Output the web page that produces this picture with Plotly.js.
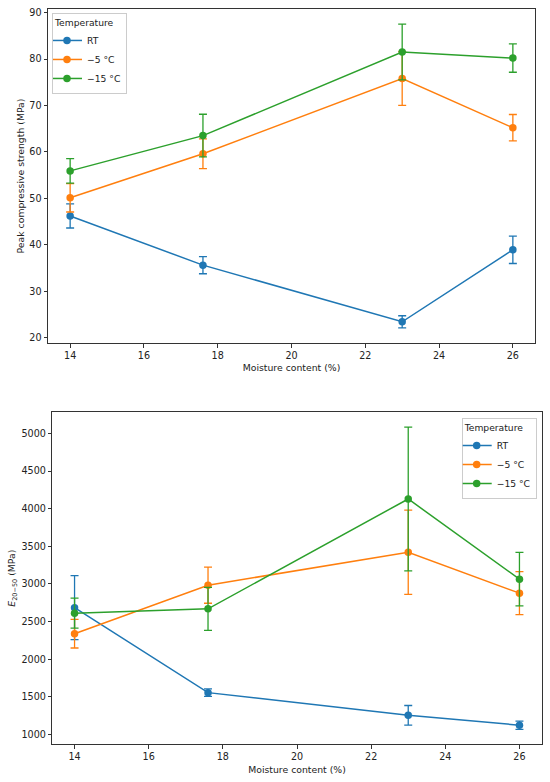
<!DOCTYPE html>
<html>
<head>
<meta charset="utf-8">
<script src="https://cdn.plot.ly/plotly-3.0.1.min.js"></script>
<style>html,body{margin:0;padding:0;background:#fff;}#chart{width:550px;height:782px;}</style>
</head>
<body>
<div id="chart"></div>
<script>
// Shared data
const moisture = [14, 17.6, 23, 26];
const seriesNames = ["RT", "\u22125 \u00B0C", "\u221215 \u00B0C"];
const colors = ["#1f77b4", "#ff7f0e", "#2ca02c"];

// Top: Peak compressive strength (MPa)
const peakRT = [46.2, 35.6, 23.4, 38.9];
const peakRTerr = [2.6, 1.85, 1.3, 2.95];
const peakM5 = [50.1, 59.6, 75.8, 65.2];
const peakM5err = [3.05, 3.2, 5.8, 2.85];
const peakM15 = [55.9, 63.5, 81.5, 80.2];
const peakM15err = [2.65, 4.6, 6.0, 3.05];

// Bottom: E20-50 (MPa)
const eRT = [2685, 1557, 1256, 1125];
const eRTerr = [425, 50, 130, 55];
const eM5 = [2340, 2984, 3422, 2878];
const eM5err = [190, 240, 560, 285];
const eM15 = [2613, 2670, 4129, 3064];
const eM15err = [200, 285, 955, 355];

const peakVals = [peakRT, peakM5, peakM15];
const peakErrs = [peakRTerr, peakM5err, peakM15err];
const eVals = [eRT, eM5, eM15];
const eErrs = [eRTerr, eM5err, eM15err];

const FONT = "DejaVu Sans, sans-serif";
const traces = [];
for (let i = 0; i < 3; i++) {
  traces.push({
    x: moisture, y: peakVals[i], type: "scatter", mode: "lines+markers",
    name: seriesNames[i], xaxis: "x", yaxis: "y", legend: "legend",
    line: {color: colors[i], width: 1.5},
    marker: {color: colors[i], size: 7.5},
    error_y: {type: "data", array: peakErrs[i], visible: true, color: colors[i], thickness: 1.3, width: 4}
  });
}
for (let i = 0; i < 3; i++) {
  traces.push({
    x: moisture, y: eVals[i], type: "scatter", mode: "lines+markers",
    name: seriesNames[i], xaxis: "x2", yaxis: "y2", legend: "legend2",
    line: {color: colors[i], width: 1.5},
    marker: {color: colors[i], size: 7.5},
    error_y: {type: "data", array: eErrs[i], visible: true, color: colors[i], thickness: 1.3, width: 4}
  });
}

const axisCommon = {
  showline: true, mirror: true, linecolor: "#333", linewidth: 1,
  ticks: "outside", ticklen: 3.5, tickwidth: 1, tickcolor: "#333",
  showgrid: false, zeroline: false,
  tickfont: {family: FONT, size: 9.6, color: "#222"}
};

const layout = {
  width: 550, height: 782,
  margin: {l: 0, r: 0, t: 0, b: 0},
  paper_bgcolor: "#fff", plot_bgcolor: "#fff",
  font: {family: FONT, size: 9.4, color: "#222"},
  showlegend: true,
  xaxis: Object.assign({}, axisCommon, {
    domain: [48/550, 535/550], anchor: "y",
    range: [13.4, 26.6], tickvals: [14, 16, 18, 20, 22, 24, 26],
    title: {text: "Moisture content (%)", font: {family: FONT, size: 9.3, color: "#222"}, standoff: 4}
  }),
  yaxis: Object.assign({}, axisCommon, {
    domain: [439/782, 773/782], anchor: "x",
    range: [18.83, 90.77], tickvals: [20, 30, 40, 50, 60, 70, 80, 90],
    title: {text: "Peak compressive strength (MPa)", font: {family: FONT, size: 9.3, color: "#222"}, standoff: 3}
  }),
  xaxis2: Object.assign({}, axisCommon, {
    domain: [52.3/550, 541.7/550], anchor: "y2",
    range: [13.4, 26.6], tickvals: [14, 16, 18, 20, 22, 24, 26],
    title: {text: "Moisture content (%)", font: {family: FONT, size: 9.3, color: "#222"}, standoff: 5}
  }),
  yaxis2: Object.assign({}, axisCommon, {
    domain: [38/782, 369.7/782], anchor: "x2",
    range: [875, 5280], tickvals: [1000, 1500, 2000, 2500, 3000, 3500, 4000, 4500, 5000],
    title: {text: "<i>E</i><sub>20\u221250</sub> (MPa)", font: {family: FONT, size: 9.3, color: "#222"}, standoff: 4}
  }),
  legend: {
    x: 52/550, y: (782-13)/782, xanchor: "left", yanchor: "top",
    bgcolor: "rgba(255,255,255,0.8)", bordercolor: "#ccc", borderwidth: 1,
    font: {family: FONT, size: 9.2, color: "#222"},
    title: {text: "Temperature", font: {family: FONT, size: 9.2, color: "#222"}},
    itemwidth: 30, tracegroupgap: 0, indentation: -6
  },
  legend2: {
    x: 536.7/550, y: (782-418)/782, xanchor: "right", yanchor: "top",
    bgcolor: "rgba(255,255,255,0.8)", bordercolor: "#ccc", borderwidth: 1,
    font: {family: FONT, size: 9.2, color: "#222"},
    title: {text: "Temperature", font: {family: FONT, size: 9.2, color: "#222"}},
    itemwidth: 30, tracegroupgap: 0, indentation: -6
  }
};

Plotly.newPlot("chart", traces, layout, {displayModeBar: false, staticPlot: true});
</script>
</body>
</html>
